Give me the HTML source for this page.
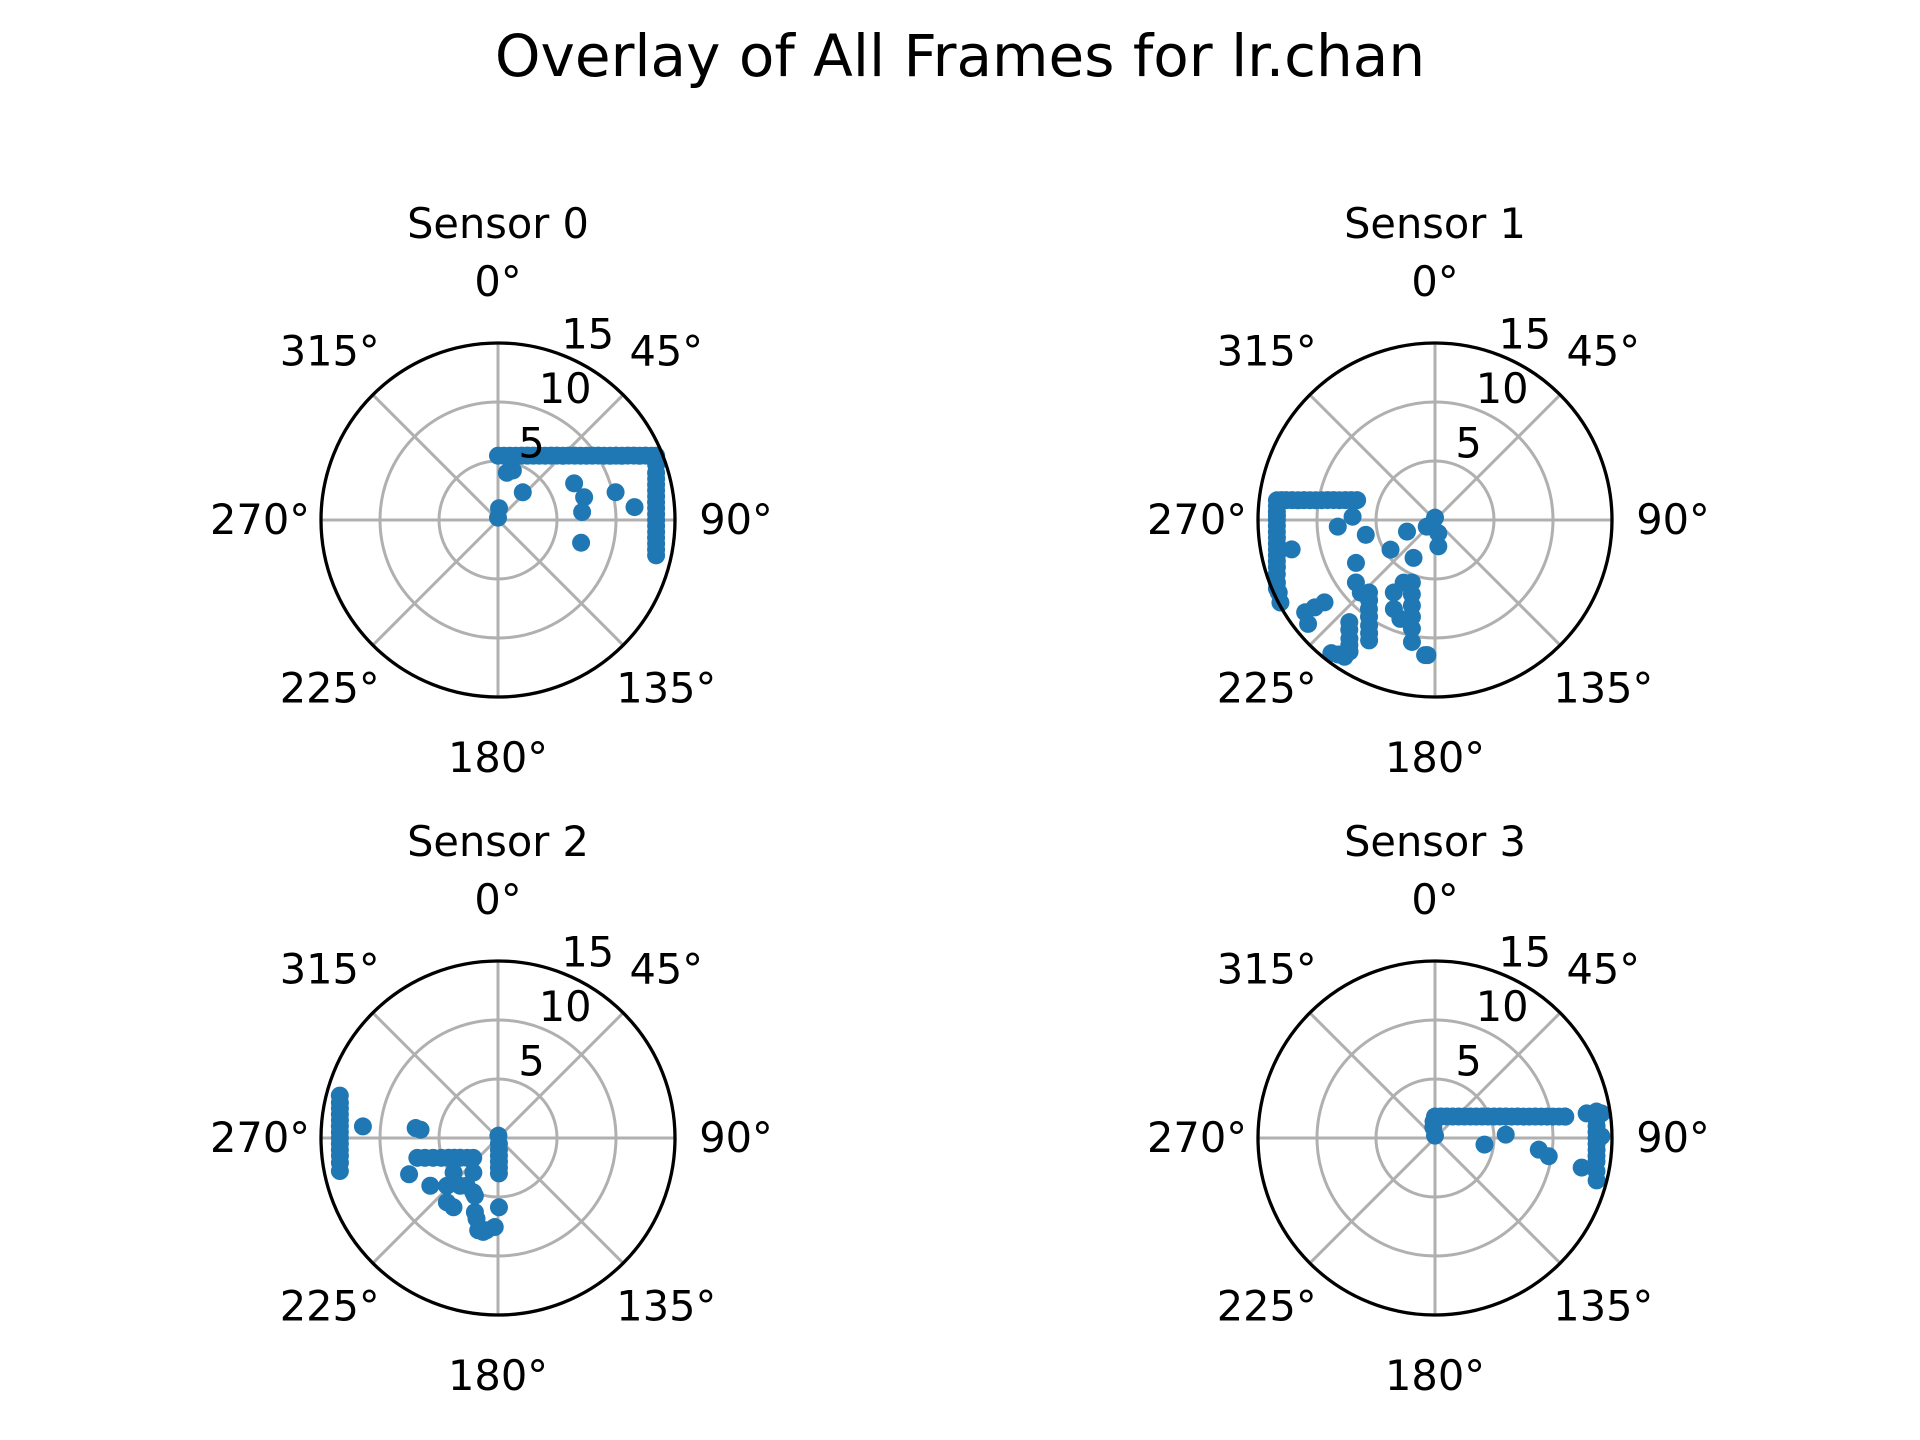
<!DOCTYPE html>
<html><head><meta charset="utf-8"><style>
html,body{margin:0;padding:0;background:#fff}
svg{display:block}
text{font-family:"DejaVu Sans","Liberation Sans",sans-serif;fill:#000}
</style></head><body>
<svg id="fig" width="1920" height="1440" viewBox="0 0 1920 1440" xmlns="http://www.w3.org/2000/svg">
<rect width="1920" height="1440" fill="#fff"/>
<text x="960" y="76" font-size="58" text-anchor="middle">Overlay of All Frames for lr.chan</text>
</svg>
<script>
// Data: theta in degrees (0 = north, clockwise), r in range units
const s0Theta = [0,10.4,20.2,28.8,36.3,42.5,47.7,52.1,55.7,58.8,61.4,63.6,65.6,67.3,67.9,73.4,77.4,81.5,85.7,90,94.3,98.5,102.6,16.7,10.6,41.8,5,64.3,75.2,84.6,105.3,76.7,84.6,0,
  5.2,15.4,24.6,32.7,39.5,45.3,50.0,54.0,57.3,60.2,62.6,64.6,66.4,70.7,75.4,79.4,83.6,87.9,92.1,96.4,100.6];
const s0R     = [5.45,5.54,5.81,6.22,6.76,7.40,8.11,8.87,9.68,10.52,11.39,12.28,13.18,14.10,14.47,13.98,13.73,13.55,13.44,13.4,13.44,13.55,13.73,4.38,4.07,3.15,1.0,7.16,7.55,7.16,7.30,10.24,11.62,0.2,
  5.47,5.65,6.0,6.48,7.07,7.74,8.48,9.27,10.10,10.95,11.83,12.73,13.64,14.2,13.85,13.63,13.48,13.41,13.41,13.48,13.63];
const s1Theta = [284.3,282.5,281.1,279.9,279.0,278.2,277.6,277.1,273.0,270,265.7,261.5,257.4,253.4,248.4,245.1,241.9,258.4,234.6,233.3,230.7,217.9,213.5,220,215.8,213,222.3,216.6,212,208.7,231.7,225.6,241.5,266.1,272.3,257.9,236.3,209.5,247.5,231,172.8,166,209.6,204.8,200.3,195.1,192,190.7,206.6,199.3,184.2,183.2,0,
  283.3,281.7,280.5,279.4,278.6,277.9,277.4,275.1,271.5,267.9,263.6,259.4,255.4,251.1,246.6,219.4,214.3,210.2,197.3,193.4,218,214.4,215.7,234];
const s1R     = [6.81,7.78,8.76,9.75,10.73,11.72,12.71,13.50,13.42,13.4,13.44,13.55,13.73,13.98,14.41,14.6,14.85,12.4,13.5,11.68,13.9,14.3,13.9,11.3,12.4,13.3,8.31,9.39,10.54,11.63,8.54,8.8,7.62,8.26,6.99,6.0,4.53,3.69,2.57,0.9,2.25,1.15,7.07,8.31,5.65,7.52,9.41,10.52,5.93,8.88,11.48,11.47,0.2,
  7.30,8.27,9.25,10.24,11.23,12.22,13.11,13.45,13.4,13.41,13.48,13.63,13.85,14.17,14.6,8.8,9.92,11.1,6.6,8.43,11.8,12.85,14.04,12.6];
const s2Theta = [285.0,280.6,276.4,272.1,267.9,263.6,258.2,274.9,276.9,276.1,256.2,253,248.2,242.3,231.3,247.8,234.8,218.5,212.7,218.4,215.5,204.4,197.3,192.1,187.1,182.1,179.2,175.4,177.7,178.5,10,
  282.6,278.5,274.3,270,265.7,261.1,254.8,250.7,245.6,237.1,226.9,213.2,232.1,201.8,194.9,189,171,177,178.2];
const s2R     = [13.88,13.63,13.48,13.41,13.41,13.48,13.69,11.49,7.03,6.6,7.04,5.75,4.51,3.61,2.69,8.14,7.02,6.96,6.98,5.17,3.6,5.06,6.58,8.0,7.88,7.55,5.87,1.0,2.0,3.0,0.2,
  13.73,13.55,13.44,13.4,13.44,13.56,6.42,5.09,4.06,3.1,5.93,4.84,4.77,5.27,7.08,8.06,0.5,1.5,2.5];
const s3Theta = [0,28.8,47.7,58.8,65.5,70,73.1,75.4,77.2,78.6,79.7,80.6,80.7,351,80.7,85.8,90,94.2,98.3,104.7,80.8,81.6,89.4,101.4,87.3,97.6,96.4,99.1,0,
  15.4,39.5,53.9,62.5,68,71.7,74.4,76.4,77.9,79.2,80.2,83.3,87.9,92.1,96.3,101.6,355];
const s3R     = [1.82,2.08,2.7,3.51,4.39,5.32,6.27,7.23,8.2,9.18,10.16,11.15,11.19,0.91,13.87,13.73,13.69,13.73,13.83,14.16,13.02,14.26,14.1,12.68,6.0,4.23,8.85,9.76,0.2,
  1.89,2.36,3.09,3.94,4.85,5.79,6.75,7.72,8.69,9.67,10.66,13.78,13.7,13.7,13.77,13.97,1.4];
const thetaTicks = [0,45,90,135,180,225,270,315];
const rTicks = [5,10,15];
const sensorNames = ["Sensor 0","Sensor 1","Sensor 2","Sensor 3"];

const NS = "http://www.w3.org/2000/svg";
const svg = document.getElementById('fig');
const R = 177, RMAX = 15;
const centers = [[498,520],[1435,520],[498,1138],[1435,1138]];
const series = [[s0Theta,s0R],[s1Theta,s1R],[s2Theta,s2R],[s3Theta,s3R]];

function mk(tag, attrs, parent){
  const e = document.createElementNS(NS, tag);
  for (const k in attrs) e.setAttribute(k, attrs[k]);
  parent.appendChild(e); return e;
}
function rScale(r){ return r / RMAX * R; }
function polar(cx, cy, deg, rpx){
  const a = deg * Math.PI / 180;
  return [cx + rpx * Math.sin(a), cy - rpx * Math.cos(a)];
}

centers.forEach((c, i) => {
  const [cx, cy] = c;
  const g = mk('g', {}, svg);
  
  
  rTicks.slice(0, 2).forEach(rv => {
    const ring = mk('circle', {cx, cy, r: rScale(rv), fill: 'none', stroke: '#b0b0b0', 'stroke-width': 3}, g);
    
    
  });
  thetaTicks.forEach(t => {
    const [x, y] = polar(cx, cy, t, R);
    const ln = mk('line', {x1: cx, y1: cy, x2: x, y2: y, stroke: '#b0b0b0', 'stroke-width': 3}, g);
    
    
  });
  const [th, rr] = series[i];
  const pg = mk('g', {}, g);
  
  
  th.forEach((t, k) => {
    const [x, y] = polar(cx, cy, t, rScale(rr[k]));
    const d = mk('circle', {cx: x, cy: y, r: 9, fill: '#1f77b4'}, pg);
    
    
  });
  const sp = mk('circle', {cx, cy, r: R, fill: 'none', stroke: '#000', 'stroke-width': 3.3}, g);
  
  
  thetaTicks.forEach(t => {
    const [x, y] = polar(cx, cy, t, 238);
    const tx = mk('text', {x, y: y + 14, 'font-size': 41.5, 'text-anchor': 'middle'}, g);
    tx.textContent = t + '°';
    
    
  });
  rTicks.forEach(rv => {
    const [x, y] = polar(cx, cy, 22.5, rScale(rv));
    const s = String(rv);
    const tx = mk('text', {x: x + s.length * 11, y: y - 22 + 14, 'font-size': 41.5, 'text-anchor': 'middle'}, g);
    tx.textContent = s;
    
    
  });
  const tt = mk('text', {x: cx, y: cy - 282, 'font-size': 41.5, 'text-anchor': 'middle'}, g);
  tt.textContent = sensorNames[i];
  
  
});
</script>
</body></html>
